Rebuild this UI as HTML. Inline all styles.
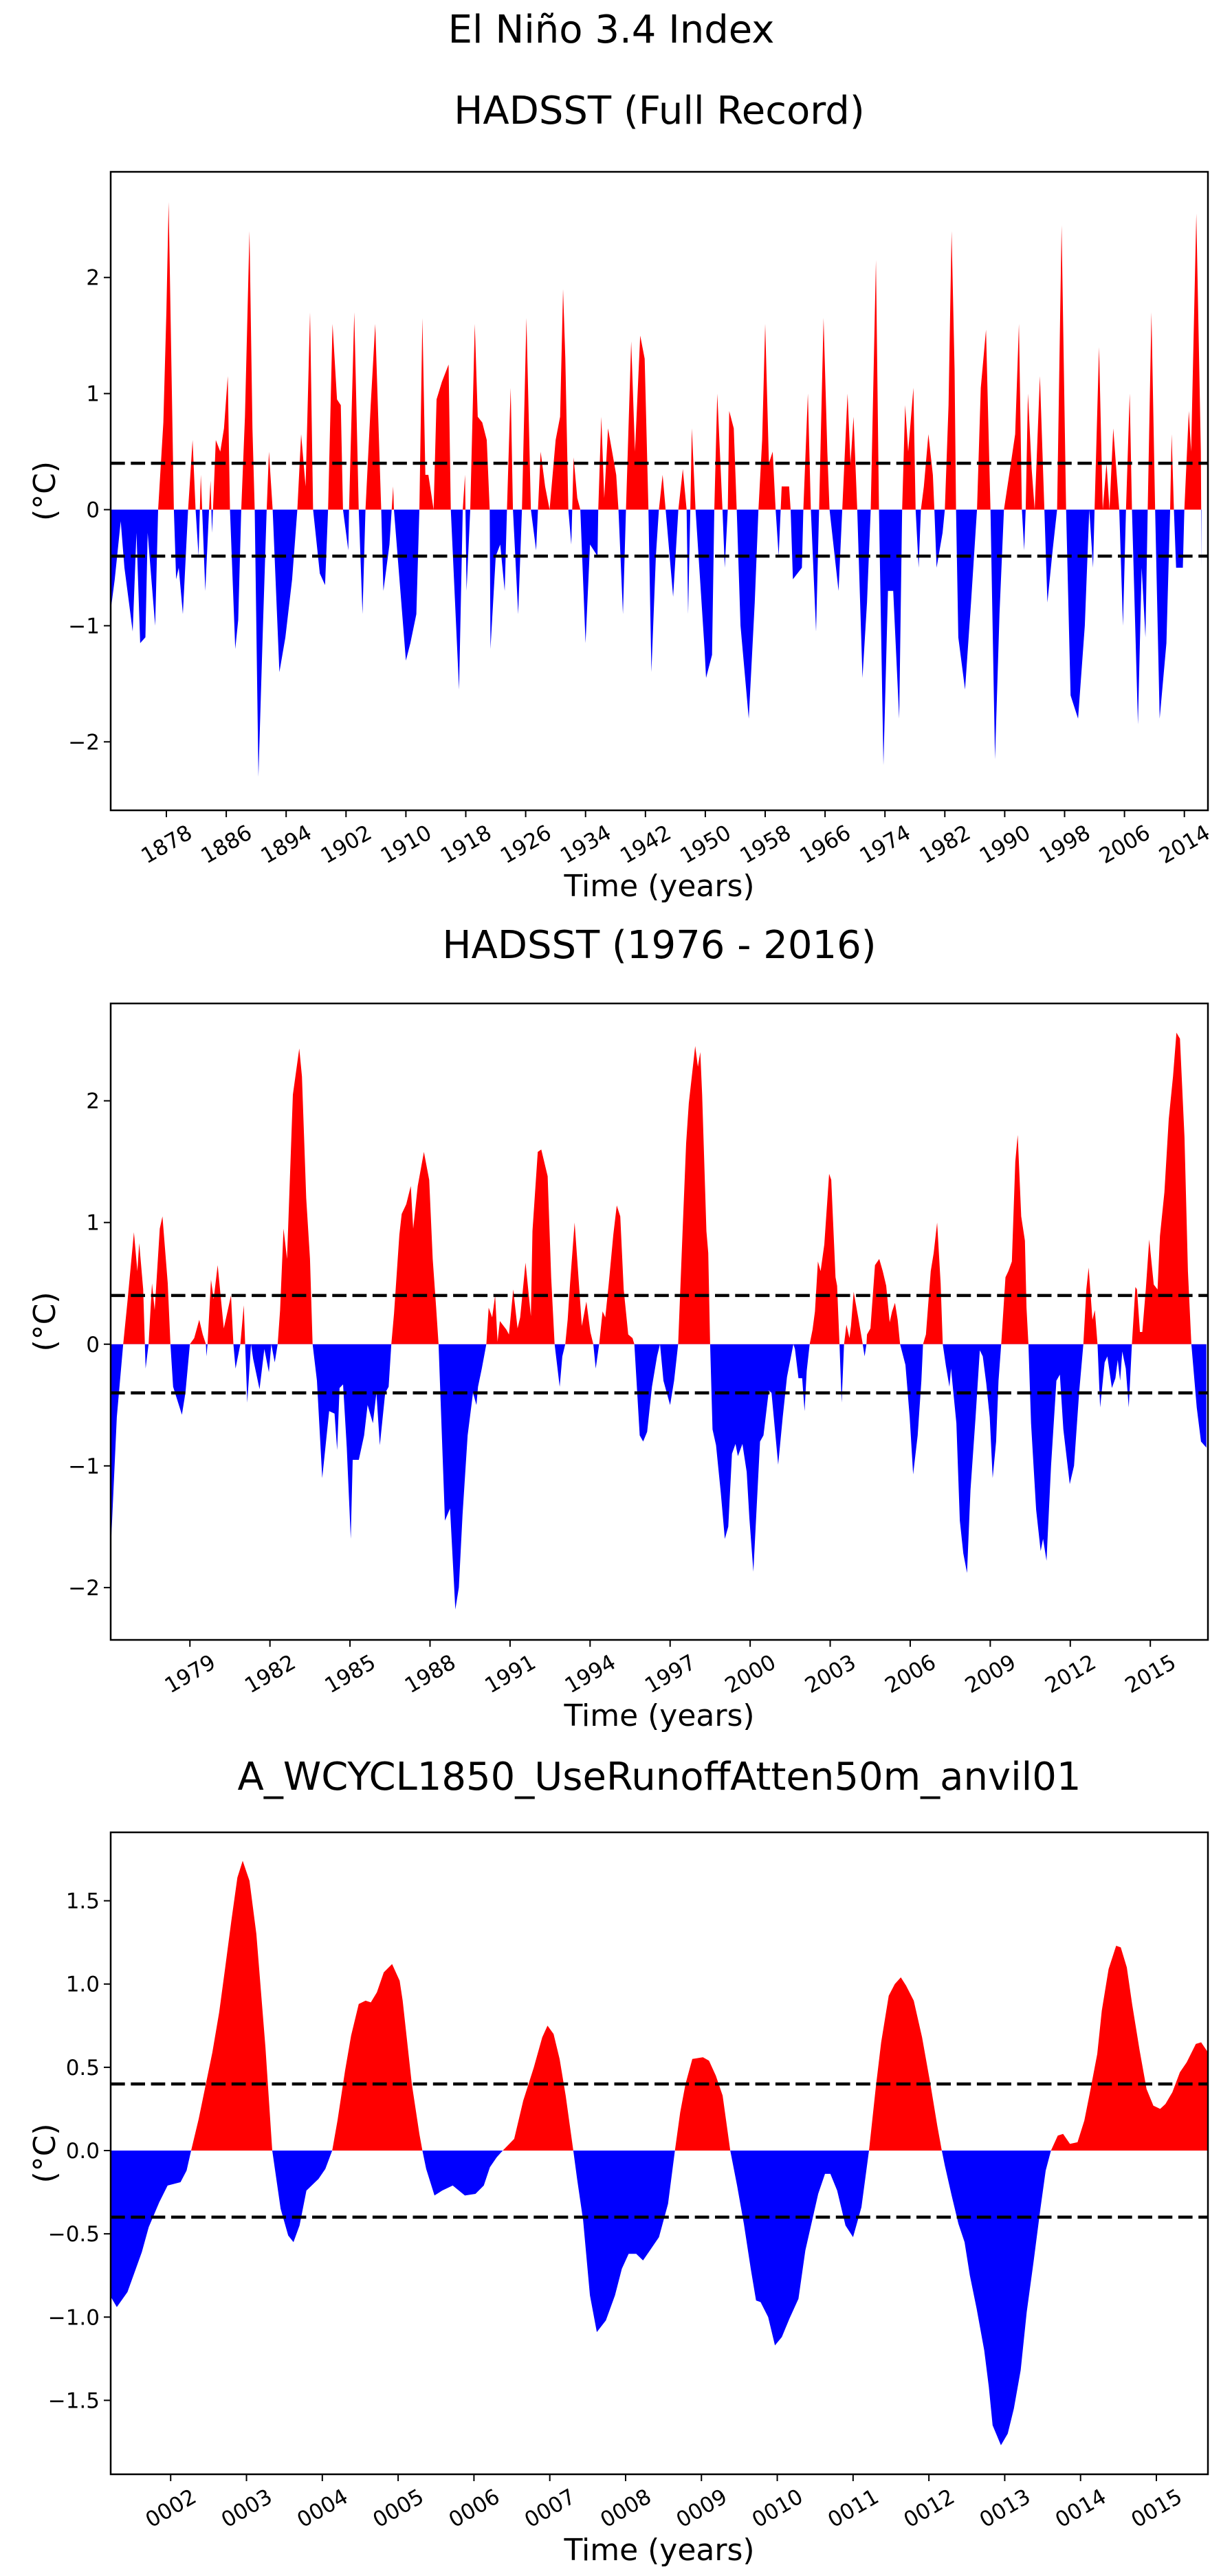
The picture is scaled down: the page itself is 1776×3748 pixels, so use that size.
<!DOCTYPE html>
<html><head><meta charset="utf-8">
<style>
html,body{margin:0;padding:0;background:#fff;}
svg{display:block;font-family:"DejaVu Sans","Liberation Sans",sans-serif;}
</style></head>
<body>
<svg id="fig" width="1776" height="3748" viewBox="0 0 1776 3748" xmlns="http://www.w3.org/2000/svg">
<rect width="1776" height="3748" fill="#fff"/>
<text x="889" y="62" font-size="56" text-anchor="middle">El Niño 3.4 Index</text>
</svg>
<script>
// ---- Panel 1: HADSST full record ----
const years1 = [1870.5,1871.1,1871.9,1872.4,1873.0,1873.5,1874.0,1874.5,1875.2,1875.5,1876.0,1876.5,1876.9,1877.6,1878.0,1878.3,1878.7,1879.0,1879.3,1879.65,1880.2,1880.9,1881.5,1881.9,1882.3,1882.6,1883.2,1883.7,1883.9,1884.1,1884.6,1885.2,1885.7,1886.2,1886.5,1887.2,1887.6,1888.0,1888.5,1889.1,1889.5,1889.8,1890.3,1890.9,1891.4,1891.7,1892.2,1893.1,1893.9,1894.8,1895.5,1896.0,1896.6,1897.2,1897.6,1898.5,1899.2,1899.6,1900.2,1900.8,1901.3,1901.6,1902.3,1902.4,1903.1,1903.7,1904.2,1904.6,1905.3,1905.9,1906.5,1906.7,1907.0,1907.8,1908.3,1908.4,1910.0,1910.6,1911.4,1911.8,1912.2,1912.6,1913.0,1913.7,1914.1,1914.8,1915.7,1916.0,1917.1,1917.6,1917.9,1918.1,1918.6,1919.2,1919.6,1920.2,1920.8,1921.2,1921.3,1922.0,1922.6,1923.2,1923.5,1924.0,1924.3,1925.0,1925.5,1926.1,1926.7,1927.4,1928.0,1928.6,1929.2,1930.0,1930.6,1931.0,1931.3,1931.7,1932.1,1932.4,1932.9,1933.3,1934.0,1934.6,1935.6,1935.7,1936.1,1936.5,1937.0,1938.1,1938.4,1939.0,1939.4,1940.1,1940.6,1941.3,1941.9,1942.4,1942.8,1943.4,1943.8,1944.3,1944.7,1945.7,1946.4,1947.0,1947.5,1947.7,1948.0,1948.2,1948.7,1949.9,1950.1,1950.9,1951.2,1951.6,1952.3,1952.6,1953.0,1953.2,1953.8,1954.2,1954.7,1955.8,1956.6,1957.1,1957.6,1958.0,1958.5,1959.0,1959.4,1959.8,1960.2,1961.2,1961.4,1961.7,1962.9,1963.1,1963.7,1964.1,1964.8,1965.2,1965.8,1966.3,1966.6,1967.8,1968.3,1969.0,1969.4,1969.8,1970.3,1971.0,1971.6,1972.1,1972.8,1973.2,1973.8,1974.4,1975.1,1975.9,1976.3,1976.7,1977.1,1977.8,1978.1,1978.5,1978.8,1979.2,1979.8,1980.4,1980.6,1980.9,1981.7,1982.0,1982.5,1982.9,1983.3,1983.5,1983.8,1984.7,1985.5,1986.3,1986.8,1987.5,1988.1,1988.7,1989.3,1989.9,1990.6,1991.4,1991.9,1992.3,1992.6,1992.8,1993.1,1993.6,1994.0,1994.7,1995.3,1995.7,1996.4,1997.0,1997.6,1998.2,1998.8,1999.8,2000.7,2001.3,2001.8,2002.0,2002.6,2003.1,2003.6,2004.0,2004.5,2005.3,2005.8,2006.2,2006.7,2007.0,2007.8,2008.3,2008.8,2009.1,2009.6,2010.1,2010.7,2011.6,2012.1,2012.3,2012.6,2012.9,2013.8,2014.0,2014.6,2014.9,2015.6,2016.2,2016.3];
const values1 = [-0.9,-0.6,-0.1,-0.5,-0.8,-1.05,-0.2,-1.15,-1.1,-0.2,-0.6,-1.0,0,0.75,1.7,2.65,1.15,0,-0.6,-0.5,-0.9,0,0.6,0,-0.4,0.3,-0.7,0,0.25,-0.2,0.6,0.5,0.7,1.15,0,-1.2,-0.95,0,0.8,2.4,0.7,0,-2.3,-1.0,0,0.5,0,-1.4,-1.1,-0.6,0,0.65,0.2,1.7,0,-0.55,-0.65,0,1.6,0.95,0.9,0,-0.35,0,1.7,0,-0.9,0,0.9,1.6,0.4,0,-0.7,-0.3,0.2,0,-1.3,-1.15,-0.9,0,1.65,0.3,0.3,0,0.95,1.1,1.25,0,-1.55,0,0.3,-0.7,0,1.6,0.8,0.75,0.6,0,-1.2,-0.4,-0.3,-0.7,0,1.05,0,-0.9,0,1.65,0,-0.35,0.5,0.2,0,0.6,0.8,1.9,1.3,0,-0.3,0.45,0.1,0,-1.15,-0.3,-0.4,0,0.8,0.1,0.7,0.3,0,-0.9,0,1.45,0.5,1.5,1.3,0,-1.4,-0.4,0,0.3,0,-0.75,0,0.35,0,-0.9,0,0.7,0,-1.2,-1.45,-1.25,0,1.0,0,-0.5,0,0.85,0.7,0,-1.0,-1.8,-0.8,0,0.6,1.6,0.4,0.5,0,-0.4,0.2,0.2,0,-0.6,-0.5,0,1.0,0,-1.05,0,1.65,0.5,0,-0.7,0,1.0,0.4,0.8,0,-1.45,-0.8,0,2.15,0,-2.2,-0.7,-0.7,-1.8,0,0.9,0.5,1.05,0,-0.5,0,0.2,0.65,0.3,0,-0.5,-0.2,0,0.9,2.4,1.2,0,-1.1,-1.55,-0.8,0,1.05,1.55,0,-2.15,-0.9,0,0.3,0.65,1.6,0,-0.35,0,1.0,0.35,0,1.15,0,-0.8,-0.35,0,2.45,0,-1.6,-1.8,-1.0,0,-0.5,0,1.4,0,0.4,0,0.7,0,-1.0,0,1.0,0,-1.85,-0.5,-1.1,0,1.7,0,-1.8,-1.15,0,0.65,0,-0.5,-0.5,0,0.85,0.5,2.55,0.5,-0.5];
const xticks1 = [1878,1886,1894,1902,1910,1918,1926,1934,1942,1950,1958,1966,1974,1982,1990,1998,2006,2014];
const xtickLabels1 = ["1878","1886","1894","1902","1910","1918","1926","1934","1942","1950","1958","1966","1974","1982","1990","1998","2006","2014"];
const yticks1 = [-2,-1,0,1,2];
const ytickLabels1 = ["\u22122","\u22121","0","1","2"];

// ---- Panel 2: HADSST 1976-2016 ----
const years2 = [1976.0,1976.26,1976.5,1976.66,1976.9,1977.03,1977.1,1977.25,1977.34,1977.45,1977.58,1977.68,1977.87,1977.97,1978.17,1978.27,1978.37,1978.7,1978.83,1979.0,1979.16,1979.35,1979.48,1979.6,1979.62,1979.66,1979.79,1979.89,1980.04,1980.27,1980.54,1980.63,1980.71,1980.89,1981.02,1981.07,1981.15,1981.29,1981.37,1981.61,1981.79,1981.96,1982.05,1982.18,1982.29,1982.38,1982.51,1982.64,1982.86,1983.1,1983.2,1983.36,1983.5,1983.6,1983.76,1983.96,1984.22,1984.42,1984.52,1984.61,1984.74,1984.88,1985.03,1985.1,1985.33,1985.53,1985.66,1985.86,1985.99,1986.12,1986.32,1986.45,1986.55,1986.65,1986.85,1986.94,1987.11,1987.28,1987.37,1987.54,1987.77,1987.97,1988.1,1988.23,1988.32,1988.56,1988.75,1988.95,1989.08,1989.22,1989.41,1989.61,1989.74,1989.8,1989.94,1990.11,1990.2,1990.33,1990.44,1990.53,1990.62,1990.86,1990.96,1991.12,1991.28,1991.38,1991.58,1991.78,1991.84,1992.04,1992.17,1992.41,1992.54,1992.67,1992.86,1992.96,1993.07,1993.16,1993.25,1993.42,1993.55,1993.69,1993.86,1994.01,1994.12,1994.21,1994.34,1994.47,1994.57,1994.7,1994.87,1995.0,1995.13,1995.26,1995.43,1995.59,1995.66,1995.86,1995.99,1996.14,1996.32,1996.51,1996.62,1996.75,1997.0,1997.15,1997.3,1997.47,1997.6,1997.7,1997.94,1998.04,1998.13,1998.2,1998.36,1998.43,1998.5,1998.59,1998.72,1998.9,1999.05,1999.18,1999.32,1999.45,1999.54,1999.71,1999.87,1999.97,2000.12,2000.37,2000.5,2000.7,2000.8,2001.05,2001.22,2001.38,2001.62,2001.68,2001.81,2001.95,2002.04,2002.12,2002.23,2002.34,2002.43,2002.54,2002.64,2002.78,2002.96,2003.04,2003.2,2003.26,2003.35,2003.43,2003.52,2003.61,2003.72,2003.78,2003.88,2004.05,2004.22,2004.29,2004.36,2004.38,2004.51,2004.68,2004.84,2004.97,2005.1,2005.23,2005.32,2005.43,2005.53,2005.62,2005.82,2005.98,2006.11,2006.28,2006.42,2006.48,2006.59,2006.77,2006.88,2007.01,2007.14,2007.22,2007.34,2007.47,2007.53,2007.73,2007.86,2007.99,2008.13,2008.26,2008.45,2008.61,2008.72,2008.85,2008.98,2009.09,2009.22,2009.31,2009.41,2009.57,2009.68,2009.81,2009.94,2010.03,2010.16,2010.3,2010.36,2010.43,2010.53,2010.72,2010.89,2010.98,2011.11,2011.28,2011.48,2011.61,2011.74,2011.98,2012.14,2012.33,2012.49,2012.6,2012.69,2012.83,2012.92,2013.02,2013.12,2013.29,2013.39,2013.56,2013.69,2013.78,2013.87,2013.95,2014.08,2014.19,2014.31,2014.44,2014.5,2014.61,2014.7,2014.83,2014.96,2015.13,2015.27,2015.36,2015.53,2015.69,2015.85,2015.98,2016.11,2016.28,2016.41,2016.54,2016.74,2016.9,2017.1];
const values2 = [-1.85,-0.6,0,0.35,0.92,0.6,0.83,0.45,-0.2,0,0.5,0.28,0.95,1.05,0.5,0,-0.35,-0.58,-0.4,0,0.05,0.2,0.08,0,-0.1,0,0.53,0.37,0.65,0.13,0.4,0,-0.2,0,0.32,0,-0.48,0,-0.12,-0.37,-0.04,-0.23,0,-0.15,0,0.28,0.95,0.7,2.05,2.43,2.2,1.2,0.7,0,-0.3,-1.1,-0.55,-0.57,-0.87,-0.36,-0.33,-0.85,-1.6,-0.95,-0.95,-0.75,-0.5,-0.65,-0.4,-0.83,-0.4,-0.35,0,0.25,0.9,1.07,1.15,1.3,0.95,1.3,1.58,1.35,0.7,0.3,0,-1.45,-1.35,-2.18,-2.0,-1.4,-0.75,-0.4,-0.5,-0.35,-0.2,0,0.3,0.22,0.4,0.02,0.19,0.12,0.08,0.45,0.13,0.22,0.67,0.23,0.93,1.58,1.6,1.38,0.55,0,-0.35,-0.1,0,0.2,0.5,1.0,0.6,0.15,0.35,0.1,0,-0.2,0,0.27,0.22,0.5,0.9,1.14,1.05,0.45,0.08,0.05,0,-0.75,-0.8,-0.72,-0.35,-0.1,0,-0.3,-0.5,-0.3,0,0.95,1.65,1.98,2.45,2.28,2.4,2.05,0.93,0.75,0,-0.7,-0.83,-1.22,-1.6,-1.5,-0.9,-0.82,-0.92,-0.82,-1.05,-1.43,-1.87,-0.8,-0.75,-0.38,-0.4,-0.99,-0.6,-0.27,0,-0.04,-0.28,-0.28,-0.55,-0.22,0,0.12,0.27,0.68,0.6,0.82,1.4,1.35,0.55,0.48,0,-0.48,0,0.16,0.05,0.15,0.43,0.22,0,-0.1,0,0.08,0.13,0.65,0.7,0.6,0.48,0.18,0.27,0.34,0.2,0,-0.17,-0.6,-1.07,-0.75,-0.3,0,0.08,0.6,0.75,1.0,0.5,0,-0.18,-0.35,-0.2,-0.65,-1.45,-1.72,-1.88,-1.2,-0.6,-0.05,-0.1,-0.32,-0.6,-1.1,-0.8,-0.3,0,0.55,0.6,0.68,1.5,1.72,1.05,0.85,0.3,0,-0.65,-1.36,-1.7,-1.6,-1.78,-1.0,-0.3,-0.25,-0.7,-1.15,-1.0,-0.4,0,0.45,0.63,0.2,0.28,0,-0.52,-0.15,-0.1,-0.36,-0.28,-0.13,-0.3,-0.06,-0.2,-0.52,0,0.47,0.45,0.1,0.1,0.45,0.86,0.49,0.45,0.89,1.25,1.85,2.2,2.56,2.51,1.7,0.6,0,-0.52,-0.8,-0.85];
const xticks2 = [1979,1982,1985,1988,1991,1994,1997,2000,2003,2006,2009,2012,2015];
const xtickLabels2 = ["1979","1982","1985","1988","1991","1994","1997","2000","2003","2006","2009","2012","2015"];
const yticks2 = [-2,-1,0,1,2];
const ytickLabels2 = ["\u22122","\u22121","0","1","2"];

// ---- Panel 3: model run ----
const years3 = [1.2,1.29,1.43,1.62,1.71,1.85,1.96,2.13,2.21,2.27,2.37,2.55,2.64,2.72,2.8,2.88,2.95,3.04,3.13,3.25,3.34,3.45,3.55,3.62,3.7,3.79,3.95,4.04,4.13,4.2,4.3,4.38,4.48,4.57,4.64,4.72,4.81,4.92,5.02,5.06,5.18,5.28,5.32,5.37,5.48,5.58,5.72,5.88,6.02,6.13,6.21,6.3,6.38,6.53,6.65,6.79,6.9,6.97,7.05,7.13,7.21,7.31,7.36,7.44,7.53,7.62,7.74,7.86,7.95,8.04,8.14,8.23,8.32,8.44,8.56,8.65,8.72,8.79,8.88,9.02,9.1,9.19,9.28,9.38,9.47,9.56,9.65,9.72,9.78,9.88,9.97,10.06,10.16,10.28,10.37,10.46,10.54,10.63,10.7,10.79,10.9,11.0,11.11,11.21,11.3,11.37,11.47,11.55,11.63,11.7,11.8,11.91,12.02,12.11,12.17,12.21,12.3,12.39,12.47,12.54,12.63,12.73,12.79,12.84,12.95,13.04,13.12,13.21,13.29,13.38,13.47,13.54,13.61,13.7,13.77,13.86,13.96,14.05,14.12,14.22,14.28,14.37,14.47,14.53,14.61,14.68,14.78,14.87,14.96,15.05,15.12,15.21,15.31,15.4,15.52,15.59,15.68];
const values3 = [-0.87,-0.94,-0.85,-0.61,-0.46,-0.31,-0.21,-0.19,-0.12,0,0.19,0.59,0.83,1.1,1.38,1.64,1.74,1.62,1.3,0.62,0,-0.35,-0.51,-0.55,-0.45,-0.24,-0.17,-0.11,0,0.18,0.48,0.69,0.88,0.9,0.89,0.95,1.07,1.12,1.02,0.9,0.4,0.1,0,-0.11,-0.27,-0.24,-0.21,-0.27,-0.26,-0.21,-0.1,-0.04,0,0.07,0.3,0.5,0.68,0.75,0.7,0.55,0.33,0,-0.17,-0.42,-0.87,-1.09,-1.02,-0.87,-0.71,-0.62,-0.62,-0.66,-0.6,-0.52,-0.32,0,0.23,0.4,0.55,0.56,0.54,0.45,0.33,0,-0.21,-0.44,-0.71,-0.9,-0.91,-1.0,-1.17,-1.12,-1.01,-0.89,-0.6,-0.42,-0.26,-0.14,-0.14,-0.24,-0.45,-0.52,-0.34,0,0.38,0.65,0.93,1.0,1.04,0.99,0.9,0.68,0.4,0.15,0,-0.09,-0.27,-0.44,-0.55,-0.75,-0.95,-1.2,-1.42,-1.65,-1.77,-1.7,-1.55,-1.32,-0.97,-0.67,-0.35,-0.12,0,0.09,0.1,0.04,0.05,0.18,0.34,0.58,0.84,1.09,1.23,1.22,1.1,0.88,0.6,0.37,0.27,0.25,0.28,0.35,0.47,0.53,0.64,0.65,0.59];
const xticks3 = [2,3,4,5,6,7,8,9,10,11,12,13,14,15];
const xtickLabels3 = ["0002","0003","0004","0005","0006","0007","0008","0009","0010","0011","0012","0013","0014","0015"];
const yticks3 = [-1.5,-1.0,-0.5,0,0.5,1.0,1.5];
const ytickLabels3 = ["\u22121.5","\u22121.0","\u22120.5","0.0","0.5","1.0","1.5"];

const NS = "http://www.w3.org/2000/svg";
const svg = document.getElementById('fig');
function mk(tag, attrs, parent){
  const e = document.createElementNS(NS, tag);
  for (const k in attrs) e.setAttribute(k, attrs[k]);
  (parent||svg).appendChild(e);
  return e;
}

function panel(cfg){
  const {id, title, L, R, T, B, x0, x1, y0, y1, xs, vs, xt, xtl, yt, ytl, titleY} = cfg;
  const X = v => L + (v - x0) / (x1 - x0) * (R - L);
  const Y = v => B - (v - y0) / (y1 - y0) * (B - T);
  const g = mk('g', {});
  
  

  const t = mk('text', {x: (L+R)/2, y: titleY, 'font-size': 56, 'text-anchor': 'middle'}, g);
  t.textContent = title;
  
  

  const defs = mk('defs', {}, g);
  const cpA = mk('clipPath', {id: id + '-above'}, defs);
  mk('rect', {x: L, y: T, width: R - L, height: Y(0) - T}, cpA);
  const cpB = mk('clipPath', {id: id + '-below'}, defs);
  mk('rect', {x: L, y: Y(0), width: R - L, height: B - Y(0)}, cpB);
  const cpF = mk('clipPath', {id: id + '-frame'}, defs);
  mk('rect', {x: L, y: T, width: R - L, height: B - T}, cpF);

  let d = 'M' + X(xs[0]).toFixed(1) + ',' + Y(0).toFixed(1);
  for (let i = 0; i < xs.length; i++) d += 'L' + X(xs[i]).toFixed(1) + ',' + Y(vs[i]).toFixed(1);
  d += 'L' + X(xs[xs.length-1]).toFixed(1) + ',' + Y(0).toFixed(1) + 'Z';

  const fg = mk('g', {'clip-path': 'url(#' + id + '-frame)'}, g);
  const pos = mk('path', {d: d, fill: '#ff0000', 'clip-path': 'url(#' + id + '-above)'}, fg);
  
  
  const neg = mk('path', {d: d, fill: '#0000ff', 'clip-path': 'url(#' + id + '-below)'}, fg);
  
  

  [0.4, -0.4].forEach(v => {
    const ln = mk('line', {x1: L, x2: R, y1: Y(v), y2: Y(v), stroke: '#000', 'stroke-width': 4.5, 'stroke-dasharray': '20.7,8.6'}, g);
    
    
  });

  const fr = mk('rect', {x: L, y: T, width: R - L, height: B - T, fill: 'none', stroke: '#000', 'stroke-width': 2.5}, g);
  
  

  yt.forEach((v, i) => {
    const y = Y(v);
    mk('line', {x1: L - 10, x2: L, y1: y, y2: y, stroke: '#000', 'stroke-width': 2}, g);
    const tx = mk('text', {x: L - 16, y: y + 11, 'font-size': 31, 'text-anchor': 'end'}, g);
    tx.textContent = ytl[i];
    
    
  });
  xt.forEach((v, i) => {
    const x = X(v);
    mk('line', {x1: x, x2: x, y1: B, y2: B + 10, stroke: '#000', 'stroke-width': 2}, g);
    const tx = mk('text', {x: x, y: B + 60, 'font-size': 31, 'text-anchor': 'middle', transform: 'rotate(-30 ' + x + ' ' + (B + 49) + ')'}, g);
    tx.textContent = xtl[i];
    
    
  });

  const xl = mk('text', {x: (L+R)/2, y: B + 125, 'font-size': 44, 'text-anchor': 'middle'}, g);
  xl.textContent = 'Time (years)';
  
  
  const cy = (T + B) / 2;
  const yl = mk('text', {x: 80, y: cy, 'font-size': 44, 'text-anchor': 'middle', transform: 'rotate(-90 80 ' + cy + ')'}, g);
  yl.textContent = '(°C)';
  
  
}

panel({id: 'full-record', title: 'HADSST (Full Record)', L: 161, R: 1757, T: 250, B: 1179,
  x0: 1870.56, x1: 2017.15, y0: -2.59, y1: 2.91, xs: years1, vs: values1,
  xt: xticks1, xtl: xtickLabels1, yt: yticks1, ytl: ytickLabels1, titleY: 180});
panel({id: 'recent-record', title: 'HADSST (1976 - 2016)', L: 161, R: 1757, T: 1460, B: 2386,
  x0: 1976.03, x1: 2017.16, y0: -2.43, y1: 2.80, xs: years2, vs: values2,
  xt: xticks2, xtl: xtickLabels2, yt: yticks2, ytl: ytickLabels2, titleY: 1394});
panel({id: 'model-run', title: 'A_WCYCL1850_UseRunoffAtten50m_anvil01', L: 161, R: 1757, T: 2666, B: 3600,
  x0: 1.209, x1: 15.68, y0: -1.944, y1: 1.911, xs: years3, vs: values3,
  xt: xticks3, xtl: xtickLabels3, yt: yticks3, ytl: ytickLabels3, titleY: 2604});
</script>
</body></html>
